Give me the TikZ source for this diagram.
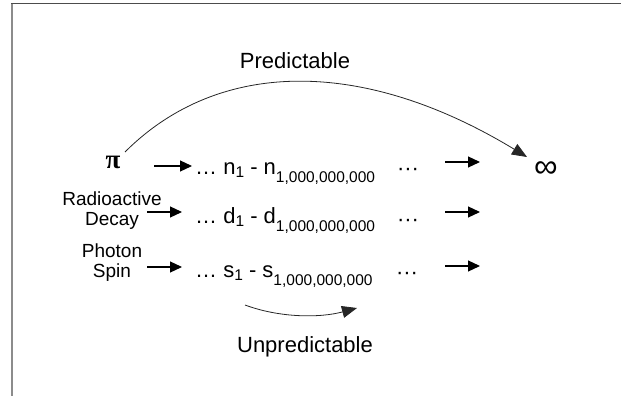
\documentclass[tikz,border=0pt]{standalone}
\usepackage{fontspec}
\setmainfont{Liberation Sans}
\newfontfamily\symfont{Liberation Serif}
\usetikzlibrary{arrows.meta}
\newcommand\subone[1]{\raisebox{-3pt}{\fontsize{15.5}{16}\selectfont #1}}
\newcommand\subbig[1]{\raisebox{-8pt}{\fontsize{15.5}{16}\selectfont #1}}
\begin{document}
\begin{tikzpicture}[x=1pt,y=-1pt,
  big/.style={inner sep=0pt, anchor=base, font=\fontsize{22}{26}\selectfont},
  lab/.style={inner sep=0pt, anchor=north, align=center, font=\fontsize{19}{20}\selectfont},
  seq/.style={inner sep=0pt, anchor=base west, font=\fontsize{22}{26}\selectfont},
  tdots/.style={inner sep=0pt, anchor=base, font=\fontsize{22}{26}\selectfont},
  arr/.style={line width=1.2pt, -{Triangle[length=12pt,width=11pt]}},
  curve/.style={line width=0.8pt, draw=black!85, -{Triangle[length=15pt,width=12pt]}},
  topline/.style={line width=1.5pt, draw=black!70},
  sideline/.style={line width=1.8pt, draw=black!45}]
\useasboundingbox (0,0) rectangle (621,396);
% frame
\draw[sideline] (12,396) -- (12,3.5);
\draw[topline] (11.1,3.5) -- (621,3.5);
% texts
\node[big] (pred) at (295,68) {Predictable};
\node[big] (unpred) at (305,352) {Unpredictable};
\node[inner sep=0pt, anchor=base, font=\symfont\fontsize{27}{30}\selectfont\bfseries] (pi) at (113,168.5) {π};
\node[inner sep=0pt, anchor=base, font=\fontsize{33}{36}\selectfont] (inf) at (546,177) {∞};
\node[lab] (rad) at (112,191.5) {Radioactive\\Decay};
\node[lab] (pho) at (112,243.5) {Photon\\Spin};
\node[seq] (nrow) at (195,174) {…\ n\subone{1} - n\subbig{1,000,000,000}};
\node[seq] (drow) at (195,223) {…\ d\subone{1} - d\subbig{1,000,000,000}};
\node[seq] (srow) at (195,277) {…\ s\subone{1} - s\subbig{1,000,000,000}};
\node[tdots] (ndots) at (408,175.5) {···};
\node[tdots] (ddots) at (408,226.5) {···};
\node[tdots] (sdots) at (407,279.5) {···};
% arrow end points
\coordinate (l1a) at (154,166); \coordinate (l1b) at (192,166);
\coordinate (l2a) at (147,212); \coordinate (l2b) at (182,212);
\coordinate (l3a) at (147,267); \coordinate (l3b) at (182,267);
\coordinate (r1a) at (445,162); \coordinate (r1b) at (480,162);
\coordinate (r2a) at (445,212); \coordinate (r2b) at (480,212);
\coordinate (r3a) at (445,266); \coordinate (r3b) at (480,266);
\coordinate (ua) at (245,305); \coordinate (ub) at (357,308);
% arrows
\draw[arr] (l1a) -- (l1b);
\draw[arr] (l2a) -- (l2b);
\draw[arr] (l3a) -- (l3b);
\draw[arr] (r1a) -- (r1b);
\draw[arr] (r2a) -- (r2b);
\draw[arr] (r3a) -- (r3b);
\draw[curve] ([shift={(12,-16.5)}]pi.base) .. controls (219,58) and (364,58) .. ([shift={(-19,-20)}]inf.base);
\draw[curve] (ua) .. controls (280,318) and (320,318) .. (ub);
\end{tikzpicture}
\end{document}
